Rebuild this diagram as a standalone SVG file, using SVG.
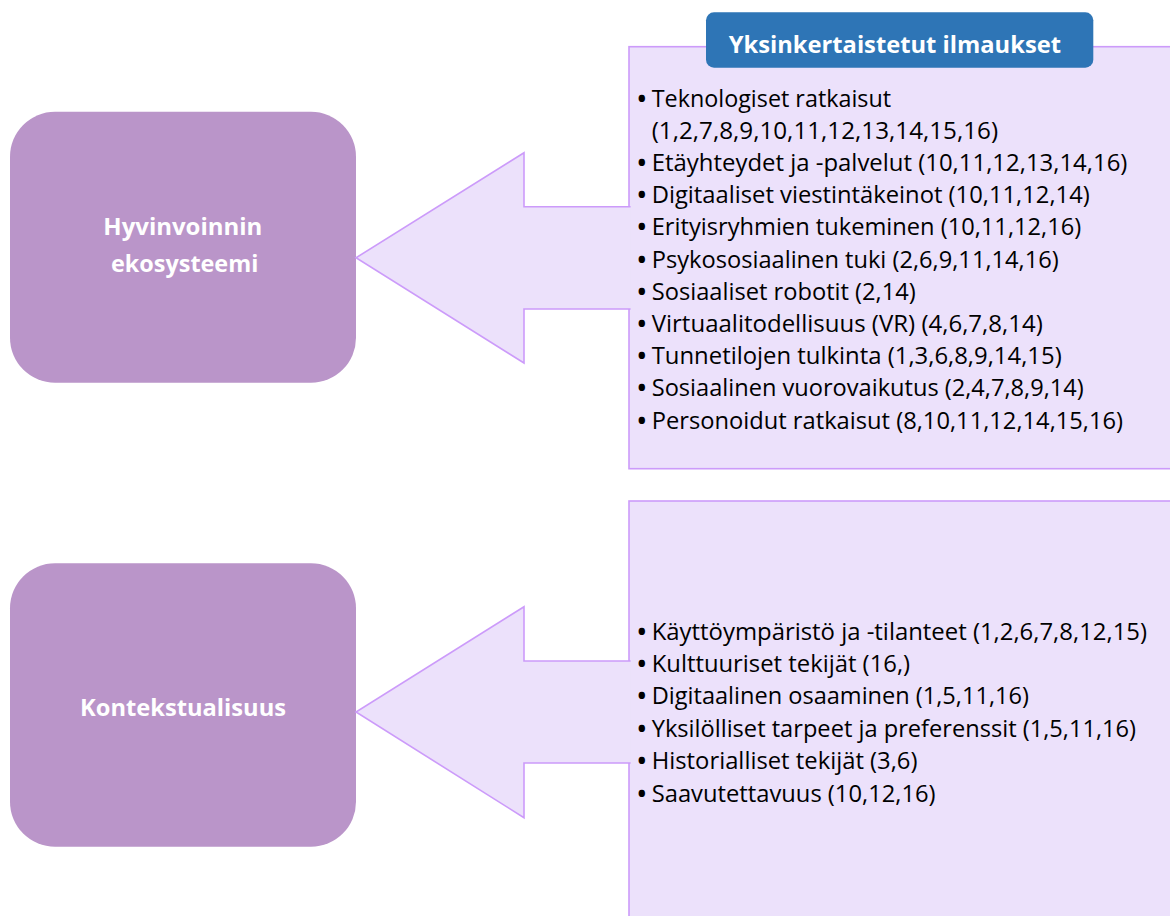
<svg xmlns="http://www.w3.org/2000/svg" width="1170" height="916" viewBox="0 0 1170 916">
  <style>
    .theme { fill: #BA95C9; }
    .panel { fill: #ECE1FB; stroke: #CC9BFA; stroke-width: 1.6; }
    .arrow { fill: #ECE1FB; stroke: #CC9BFA; stroke-width: 1.6; stroke-linejoin: miter; }
    .label { font-family: "Open Sans", "Liberation Sans", sans-serif; font-weight: 700; font-size: 22.5px; fill: #FFFFFF; }
    .item { font-family: "Open Sans", "Liberation Sans", sans-serif; font-size: 22.8px; fill: #000000; }
    .dot { font-family: "Open Sans", "Liberation Sans", sans-serif; font-size: 22.8px; font-weight: 700; fill: #000000; text-anchor: middle; }
    .heading { fill: #2E75B6; }
  </style>

  <!-- Left theme boxes -->
  <g id="node-hyvinvoinnin-ekosysteemi">
    <rect class="theme" x="10" y="111.7" width="346" height="271" rx="45" ry="45"/>
    <text class="label" x="103.3" y="235" textLength="159" lengthAdjust="spacingAndGlyphs">Hyvinvoinnin</text>
    <text class="label" x="111" y="271.7" textLength="147.3" lengthAdjust="spacingAndGlyphs">ekosysteemi</text>
  </g>

  <g id="node-kontekstualisuus">
    <rect class="theme" x="10" y="563.3" width="346" height="283.4" rx="45" ry="45"/>
    <text class="label" x="80" y="715.7" textLength="206" lengthAdjust="spacingAndGlyphs">Kontekstualisuus</text>
  </g>

  <!-- Upper list panel -->
  <g id="node-ilmaukset">
    <rect class="panel" x="629" y="46.7" width="545" height="422"/>
    <g>
      <text class="dot" x="641.7" y="106.5">•</text>
      <text class="item" x="651.7" y="106.5" textLength="239.4" lengthAdjust="spacingAndGlyphs">Teknologiset ratkaisut</text>
      <text class="item" x="651.7" y="138.7" textLength="346.4" lengthAdjust="spacingAndGlyphs">(1,2,7,8,9,10,11,12,13,14,15,16)</text>
      <text class="dot" x="641.7" y="170.9">•</text>
      <text class="item" x="651.7" y="170.9" textLength="475.7" lengthAdjust="spacingAndGlyphs">Etäyhteydet ja -palvelut (10,11,12,13,14,16)</text>
      <text class="dot" x="641.7" y="203.1">•</text>
      <text class="item" x="651.7" y="203.1" textLength="438.1" lengthAdjust="spacingAndGlyphs">Digitaaliset viestintäkeinot (10,11,12,14)</text>
      <text class="dot" x="641.7" y="235.3">•</text>
      <text class="item" x="651.7" y="235.3" textLength="429.5" lengthAdjust="spacingAndGlyphs">Erityisryhmien tukeminen (10,11,12,16)</text>
      <text class="dot" x="641.7" y="267.5">•</text>
      <text class="item" x="651.7" y="267.5" textLength="407" lengthAdjust="spacingAndGlyphs">Psykososiaalinen tuki (2,6,9,11,14,16)</text>
      <text class="dot" x="641.7" y="299.7">•</text>
      <text class="item" x="651.7" y="299.7" textLength="264.1" lengthAdjust="spacingAndGlyphs">Sosiaaliset robotit (2,14)</text>
      <text class="dot" x="641.7" y="331.9">•</text>
      <text class="item" x="651.7" y="331.9" textLength="391.1" lengthAdjust="spacingAndGlyphs">Virtuaalitodellisuus (VR) (4,6,7,8,14)</text>
      <text class="dot" x="641.7" y="364.1">•</text>
      <text class="item" x="651.7" y="364.1" textLength="410" lengthAdjust="spacingAndGlyphs">Tunnetilojen tulkinta (1,3,6,8,9,14,15)</text>
      <text class="dot" x="641.7" y="396.3">•</text>
      <text class="item" x="651.7" y="396.3" textLength="432" lengthAdjust="spacingAndGlyphs">Sosiaalinen vuorovaikutus (2,4,7,8,9,14)</text>
      <text class="dot" x="641.7" y="428.5">•</text>
      <text class="item" x="651.7" y="428.5" textLength="471.4" lengthAdjust="spacingAndGlyphs">Personoidut ratkaisut (8,10,11,12,14,15,16)</text>
    </g>
  </g>

  <!-- Lower list panel -->
  <g id="node-konteksti">
    <rect class="panel" x="629" y="501" width="545" height="420"/>
    <g>
      <text class="dot" x="641.7" y="639.5">•</text>
      <text class="item" x="651.7" y="639.5" textLength="495.3" lengthAdjust="spacingAndGlyphs">Käyttöympäristö ja -tilanteet (1,2,6,7,8,12,15)</text>
      <text class="dot" x="641.7" y="671.9">•</text>
      <text class="item" x="651.7" y="671.9" textLength="258.4" lengthAdjust="spacingAndGlyphs">Kulttuuriset tekijät (16,)</text>
      <text class="dot" x="641.7" y="704.3">•</text>
      <text class="item" x="651.7" y="704.3" textLength="377.2" lengthAdjust="spacingAndGlyphs">Digitaalinen osaaminen (1,5,11,16)</text>
      <text class="dot" x="641.7" y="736.7">•</text>
      <text class="item" x="651.7" y="736.7" textLength="484.4" lengthAdjust="spacingAndGlyphs">Yksilölliset tarpeet ja preferenssit (1,5,11,16)</text>
      <text class="dot" x="641.7" y="769.1">•</text>
      <text class="item" x="651.7" y="769.1" textLength="265.8" lengthAdjust="spacingAndGlyphs">Historialliset tekijät (3,6)</text>
      <text class="dot" x="641.7" y="801.5">•</text>
      <text class="item" x="651.7" y="801.5" textLength="283.9" lengthAdjust="spacingAndGlyphs">Saavutettavuus (10,12,16)</text>
    </g>
  </g>

  <!-- Heading tab -->
  <g id="node-otsikko">
    <rect class="heading" x="706" y="12.3" width="387.3" height="55.4" rx="8" ry="8"/>
    <text class="label" x="728.7" y="53.3" textLength="332.3" lengthAdjust="spacingAndGlyphs">Yksinkertaistetut ilmaukset</text>
  </g>

  <!-- Block arrows from the panels to the theme boxes (open on the panel side) -->
  <g id="connectors">
    <path class="arrow" d="M 630.6 206.7 H 524 V 152.7 L 356 257.8 L 524 363 V 309 H 630.6"/>
    <path class="arrow" d="M 630.6 661 H 524 V 606.7 L 356 712 L 524 817.7 V 763 H 630.6"/>
  </g>
</svg>
